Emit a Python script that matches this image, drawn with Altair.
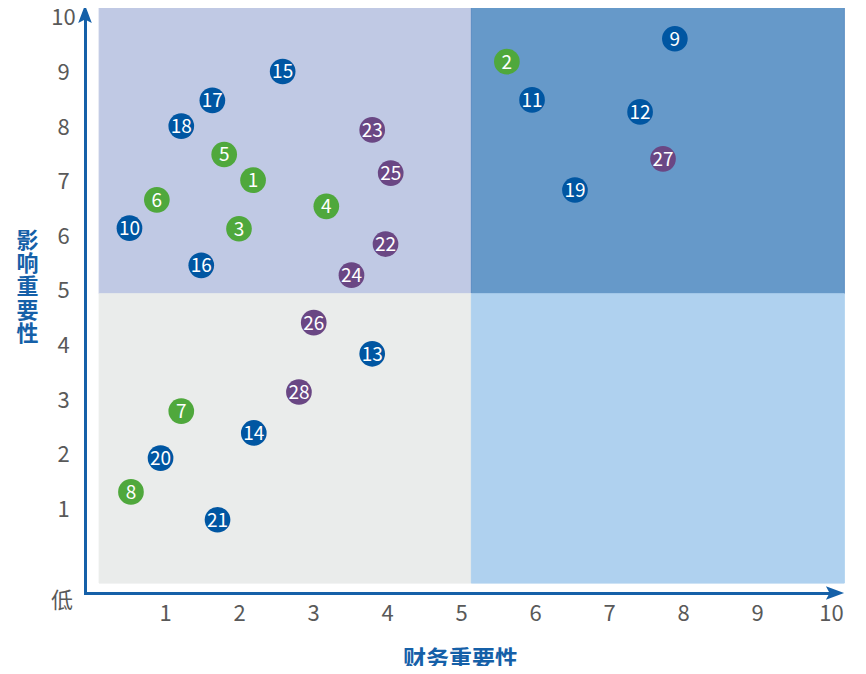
import altair as alt
import pandas as pd

# ---- data ----
ids = list(range(1, 29))
fin = [2.19, 5.62, 2.00, 3.18, 1.80, 0.89, 1.22, 0.54,
       7.89, 0.52, 5.96, 7.42, 3.80, 2.20, 2.59, 1.49, 1.64, 1.22, 6.54, 0.94, 1.71,
       3.98, 3.80, 3.52, 4.05, 3.01, 7.73, 2.81]
imp = [7.03, 9.20, 6.14, 6.55, 7.50, 6.67, 2.80, 1.32,
       9.62, 6.15, 8.50, 8.28, 3.85, 2.40, 9.02, 5.47, 8.49, 8.02, 6.85, 1.94, 0.81,
       5.86, 7.95, 5.29, 7.16, 4.42, 7.42, 3.15]
groups = ["G"] * 8 + ["B"] * 13 + ["P"] * 7
group_names = ["G", "B", "P"]
group_colors = ["#4fa83c", "#0056a2", "#6a4784"]

# quadrant backgrounds
q_x0 = [0.11, 5.14, 0.11, 5.14]
q_x1 = [5.14, 10.18, 5.14, 10.18]
q_y0 = [4.95, 4.95, -0.35, -0.35]
q_y1 = [10.2, 10.2, 4.95, 4.95]
q_fill = ["#c0c9e4", "#6699c9", "#eaeceb", "#afd1ef"]
q_stroke = ["#c0c9e4", "#5a8dc2", "#eaeceb", "#afd1ef"]

tick_vals = list(range(1, 11))
x_title = "财务重要性"
y_title = ["影", "响", "重", "要", "性"]
origin_label = "低"

XD = [-0.081, 10.054]
YD = [-0.531, 10.073]

FONT = "Noto Sans CJK SC"
AXIS_BLUE = "#1560a8"
GRAY = "#595959"

pts = pd.DataFrame({"id": [str(i) for i in ids], "x": fin, "y": imp, "g": groups})
quad = pd.DataFrame({"x0": q_x0, "x1": q_x1, "y0": q_y0, "y1": q_y1,
                     "fill": q_fill, "stroke": q_stroke})

xs = alt.Scale(domain=XD, nice=False, zero=False)
ys = alt.Scale(domain=YD, nice=False, zero=False)

xaxis = alt.Axis(values=tick_vals, format="d", grid=False, ticks=False, tickSize=0,
                 domain=True, domainColor=AXIS_BLUE, domainWidth=3, domainCap="square",
                 labelFont=FONT, labelFontSize=22, labelColor=GRAY, labelPadding=20,
                 labelBaseline="middle", labelFlush=False,
                 title=x_title, titleFont=FONT, titleFontSize=23, titleColor=AXIS_BLUE,
                 titleFontWeight="bold", titleY=66, titleBaseline="middle")
yaxis = alt.Axis(values=tick_vals, format="d", grid=False, ticks=False, tickSize=0,
                 domain=True, domainColor=AXIS_BLUE, domainWidth=3, domainCap="square",
                 labelFont=FONT, labelFontSize=22, labelColor=GRAY, labelPadding=22,
                 labelAlign="center", labelBaseline="middle", labelFlush=False,
                 title=y_title, titleFont=FONT, titleFontSize=22, titleColor=AXIS_BLUE,
                 titleFontWeight="bold", titleAngle=0, titleX=-58, titleY=216,
                 titleAlign="center", titleBaseline="top", titleLineHeight=23.4)

bg = alt.Chart(quad).mark_rect(strokeWidth=1).encode(
    x=alt.X("x0:Q", scale=xs, axis=xaxis),
    x2="x1:Q",
    y=alt.Y("y0:Q", scale=ys, axis=yaxis),
    y2="y1:Q",
    fill=alt.Fill("fill:N", scale=None),
    stroke=alt.Stroke("stroke:N", scale=None),
)

circles = alt.Chart(pts).mark_circle(size=660, opacity=1).encode(
    x=alt.X("x:Q", scale=xs),
    y=alt.Y("y:Q", scale=ys),
    color=alt.Color("g:N", scale=alt.Scale(domain=group_names, range=group_colors), legend=None),
)

labels = alt.Chart(pts).mark_text(font=FONT, fontSize=19, color="white",
                                  align="center", baseline="middle", dy=1).encode(
    x=alt.X("x:Q", scale=xs),
    y=alt.Y("y:Q", scale=ys),
    text="id:N",
)

arrows = pd.DataFrame({
    "x": [XD[0], XD[1]],
    "y": [YD[1], YD[0]],
    "shape": ["M0,-1L0.75,1L0,0.6L-0.75,1Z", "M1,0L-1,0.75L-0.6,0L-1,-0.75Z"],
})
arrow_marks = alt.Chart(arrows).mark_point(filled=True, size=330, opacity=1,
                                           color=AXIS_BLUE, strokeWidth=0).encode(
    x=alt.X("x:Q", scale=xs),
    y=alt.Y("y:Q", scale=ys),
    shape=alt.Shape("shape:N", scale=None),
)

origin = pd.DataFrame({"x": [XD[0]], "y": [YD[0]], "t": [origin_label]})
origin_text = alt.Chart(origin).mark_text(font=FONT, fontSize=22, color=GRAY,
                                          align="center", baseline="middle",
                                          dx=-23, dy=8).encode(
    x=alt.X("x:Q", scale=xs),
    y=alt.Y("y:Q", scale=ys),
    text="t:N",
)

chart = alt.layer(bg, circles, labels, arrow_marks, origin_text).properties(
    width=750, height=579,
    autosize=alt.AutoSizeParams(type="none"),
    padding={"left": 77, "top": 6, "right": 23, "bottom": 73},
).configure_view(stroke=None)

chart.save("out.html", embed_options={"renderer": "svg", "actions": False})
